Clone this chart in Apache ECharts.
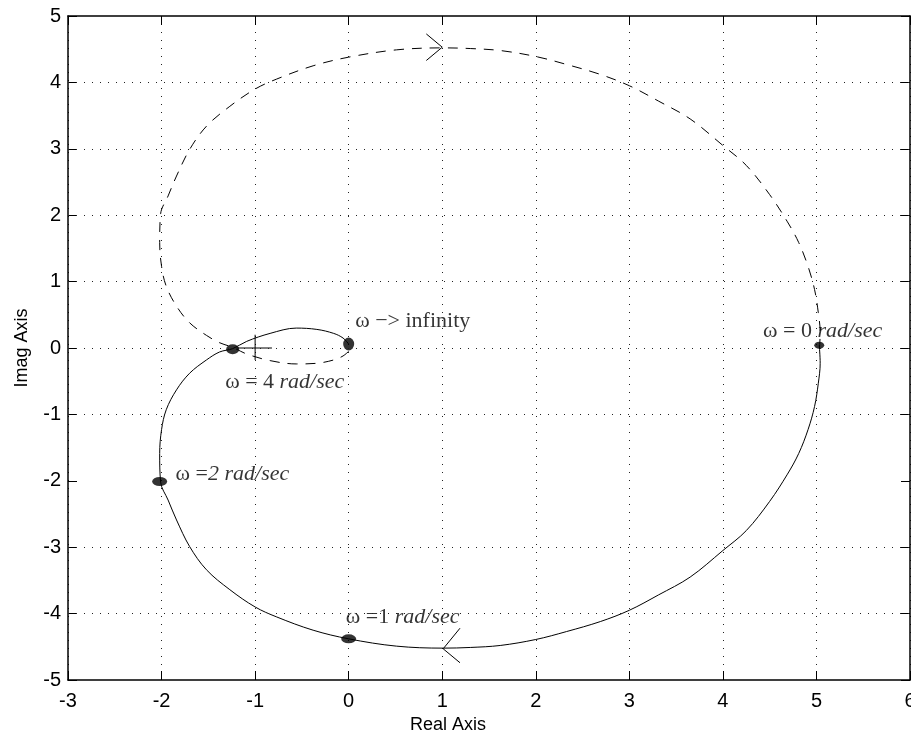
<!DOCTYPE html>
<html lang="en">
<head>
    <meta charset="UTF-8">
    <title>Nyquist</title>
    <script src="https://cdn.jsdelivr.net/npm/echarts@6/dist/echarts.min.js"></script>
    <style>
        *{
            margin: 0;
            padding: 0;
        }
        .container{
            width: 911px;
            height: 736px;
            background: #fff;
        }
    </style>
</head>
<body>
<div class="container"></div>
<script>
    // positive frequencies, w = 0 -> infinity (solid)
    let solidPts=[
        [5.03,0.04],[5.04,-0.23],[5.02,-0.53],[4.98,-0.88],[4.91,-1.23],[4.81,-1.59],[4.69,-1.90],
        [4.50,-2.31],[4.25,-2.75],[4.00,-3.05],[3.65,-3.45],[3.31,-3.72],[3.00,-3.95],[2.69,-4.12],
        [2.33,-4.27],[2.00,-4.39],[1.62,-4.48],[1.30,-4.51],[1.01,-4.52],[0.51,-4.49],[0.00,-4.38],
        [-0.38,-4.25],[-0.77,-4.05],[-1.00,-3.90],[-1.27,-3.64],[-1.52,-3.34],[-1.70,-2.99],[-1.84,-2.59],
        [-1.93,-2.29],[-2.01,-2.02],[-2.02,-1.59],[-2.00,-1.23],[-1.95,-0.93],[-1.84,-0.63],[-1.70,-0.38],
        [-1.52,-0.18],[-1.38,-0.06],[-1.24,-0.01],[-1.09,0.10],[-0.84,0.22],[-0.56,0.30],[-0.34,0.28],
        [-0.16,0.22],[-0.06,0.15],[0.00,0.06]
    ]
    // negative frequencies (dashed)
    let dashedPts=[
        [0.00,-0.05],[-0.06,-0.12],[-0.16,-0.18],[-0.34,-0.23],[-0.56,-0.24],[-0.84,-0.19],[-1.09,-0.09],
        [-1.24,0.01],[-1.38,0.08],[-1.52,0.19],[-1.70,0.38],[-1.84,0.63],[-1.95,0.93],[-2.00,1.23],
        [-2.02,1.59],[-2.01,2.02],[-1.93,2.29],[-1.84,2.59],[-1.70,2.99],[-1.52,3.34],[-1.27,3.64],
        [-1.00,3.90],[-0.77,4.05],[-0.38,4.25],[0.00,4.38],[0.51,4.49],[1.01,4.52],[1.30,4.51],
        [1.62,4.48],[2.00,4.39],[2.33,4.27],[2.69,4.12],[3.00,3.95],[3.31,3.72],[3.65,3.45],
        [4.00,3.05],[4.25,2.75],[4.50,2.31],[4.69,1.90],[4.81,1.59],[4.91,1.23],[4.98,0.88],
        [5.02,0.53],[5.04,0.23],[5.03,-0.04]
    ]
    let arrowTop=[[0.83,4.73],[1.00,4.53],[0.83,4.33]]
    let arrowBottom=[[1.19,-4.22],[1.01,-4.53],[1.19,-4.74]]
    let arrowMidH=[[-1.20,0],[-0.82,0]]
    let arrowMidV=[[-1.00,0.20],[-1.00,-0.18]]

    // frequency marks
    let dotPts=[[5.03,0.04],[0.00,-4.38],[-2.02,-2.01],[-1.24,-0.02],[0.00,0.06]]
    let dotSizes=[[10,7],[15,9],[15,9],[13,10],[11,13]]

    let labelText=['{n|ω = 0 }{i|rad/sec}','{n|ω =1 }{i|rad/sec}','{n|ω =}{i|2 rad/sec}','{n|ω = 4 }{i|rad/sec}','{n|ω −> infinity}']
    let labelPts=[[4.43,0.26],[-0.03,-4.05],[-1.85,-1.90],[-1.32,-0.51],[0.07,0.40]]

    let xTicks=[-3,6,1]
    let yTicks=[-5,5,1]
    let gridRows=[-4,-3,-1,0,1,2,3,4]

    let container=document.querySelector('.container')
    let chart=echarts.init(container)

    let tickFont={fontFamily:'Liberation Sans',fontSize:20,color:'#000'}
    let dotted={color:'#222',width:1,type:[1,7]}

    function axisBase(extra){
        return Object.assign({
            type:'value',
            axisLine:{show:true,onZero:false,lineStyle:{color:'#000',width:1.5}},
            axisTick:{show:true,inside:true,length:9,lineStyle:{color:'#000',width:1}},
            splitLine:{show:false},
            minorTick:{show:false}
        },extra)
    }

    let option={
        backgroundColor:'#fff',
        animation:false,
        grid:{left:68,right:1,top:16,bottom:56,containLabel:false,outerBoundsMode:'none'},
        xAxis:[
            axisBase({
                min:xTicks[0],max:xTicks[1],interval:xTicks[2],position:'bottom',
                axisLabel:Object.assign({margin:11,showMaxLabel:true,hideOverlap:false},tickFont),
                splitLine:{show:true,lineStyle:dotted},
                name:'Real Axis',nameLocation:'middle',nameGap:25,
                nameTextStyle:{fontFamily:'Liberation Sans',fontSize:18,color:'#000',padding:[0,82,0,0]}
            }),
            axisBase({
                min:xTicks[0],max:xTicks[1],interval:xTicks[2],position:'top',
                axisLabel:{show:false}
            })
        ],
        yAxis:[
            axisBase({
                min:yTicks[0],max:yTicks[1],interval:yTicks[2],position:'left',
                axisLabel:Object.assign({margin:7},tickFont),
                name:'Imag Axis',nameLocation:'middle',nameGap:37,
                nameTextStyle:{fontFamily:'Liberation Sans',fontSize:18,color:'#000'}
            }),
            axisBase({
                min:yTicks[0],max:yTicks[1],interval:yTicks[2],position:'right',
                axisLabel:{show:false}
            })
        ],
        series:[
            {
                type:'line',
                data:[],
                markLine:{
                    silent:true,symbol:'none',label:{show:false},
                    lineStyle:dotted,
                    data:gridRows.map(v=>({yAxis:v}))
                }
            },
            {
                type:'line',data:dashedPts,showSymbol:false,smooth:0.35,
                lineStyle:{color:'#000',width:1,type:[10,8]}
            },
            {
                type:'line',data:solidPts,showSymbol:false,smooth:0.35,
                lineStyle:{color:'#000',width:1}
            },
            {type:'line',data:arrowTop,showSymbol:false,lineStyle:{color:'#000',width:1}},
            {type:'line',data:arrowBottom,showSymbol:false,lineStyle:{color:'#000',width:1}},
            {type:'line',data:arrowMidH,showSymbol:false,lineStyle:{color:'#000',width:1}},
            {type:'line',data:arrowMidV,showSymbol:false,lineStyle:{color:'#000',width:1}},
            {
                type:'scatter',
                symbol:'path://M0,5A5,5,0,1,1,10,5A5,5,0,1,1,0,5Z',
                data:dotPts.map((p,i)=>({value:p,symbolSize:dotSizes[i]})),
                itemStyle:{color:'#000'}
            },
            {
                type:'scatter',
                symbolSize:0,
                data:labelPts.map((p,i)=>({value:p,label:{formatter:labelText[i]}})),
                label:{
                    show:true,position:'right',distance:0,
                    rich:{
                        n:{fontFamily:'Liberation Serif',fontSize:22,color:'#000'},
                        i:{fontFamily:'Liberation Serif',fontSize:22,fontStyle:'italic',color:'#000'}
                    }
                }
            }
        ]
    }

    chart.setOption(option)
</script>
</body>
</html>
